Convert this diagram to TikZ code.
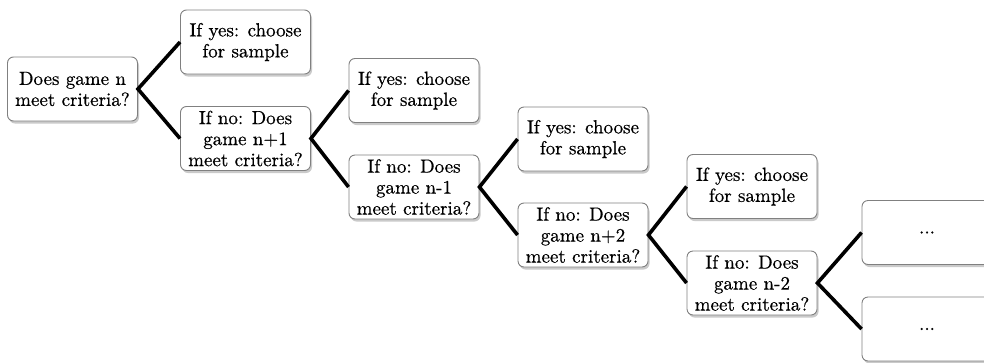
\documentclass[tikz,border=0pt]{standalone}
\usepackage{fontspec}
\newfontfamily\boxfont{lmroman10-regular.otf}[FakeBold=0.6]
\usetikzlibrary{shadows}
\begin{document}
\begin{tikzpicture}[x=1pt,y=-1pt,
  box/.style={draw=black!50, line width=0.9pt, rounded corners=6pt, fill=white,
    minimum width=130pt, minimum height=64pt, inner sep=0pt, align=center,
    font=\boxfont\fontsize{19}{21}\selectfont,
    drop shadow={shadow xshift=1.5pt, shadow yshift=-2.5pt, opacity=0.35, fill=black!60}},
  link/.style={line width=3.6pt, line join=miter}]
\useasboundingbox (0,0) rectangle (984,362);
\clip (0,0) rectangle (984,362);
\node[box] (n0) at (72.5,89) {Does game n\\meet criteria?};
\node[box] (y1) at (245.5,42) {If yes: choose\\for sample};
\node[box] (m1) at (245.5,138.5) {If no: Does\\game n+1\\meet criteria?};
\node[box] (y2) at (414,90.5) {If yes: choose\\for sample};
\node[box] (m2) at (414,187) {If no: Does\\game n-1\\meet criteria?};
\node[box] (y3) at (583,139) {If yes: choose\\for sample};
\node[box] (m3) at (583,235) {If no: Does\\game n+2\\meet criteria?};
\node[box] (y4) at (752,186.5) {If yes: choose\\for sample};
\node[box] (m4) at (752,283) {If no: Does\\game n-2\\meet criteria?};
\node[box] (d1) at (927,232.5) {...};
\node[box] (d2) at (927,329) {...};
\draw[link] (y1.west) -- (n0.east) -- (m1.west);
\draw[link] (y2.west) -- (m1.east) -- (m2.west);
\draw[link] (y3.west) -- (m2.east) -- (m3.west);
\draw[link] (y4.west) -- (m3.east) -- (m4.west);
\draw[link] (d1.west) -- (m4.east) -- (d2.west);
\end{tikzpicture}
\end{document}
